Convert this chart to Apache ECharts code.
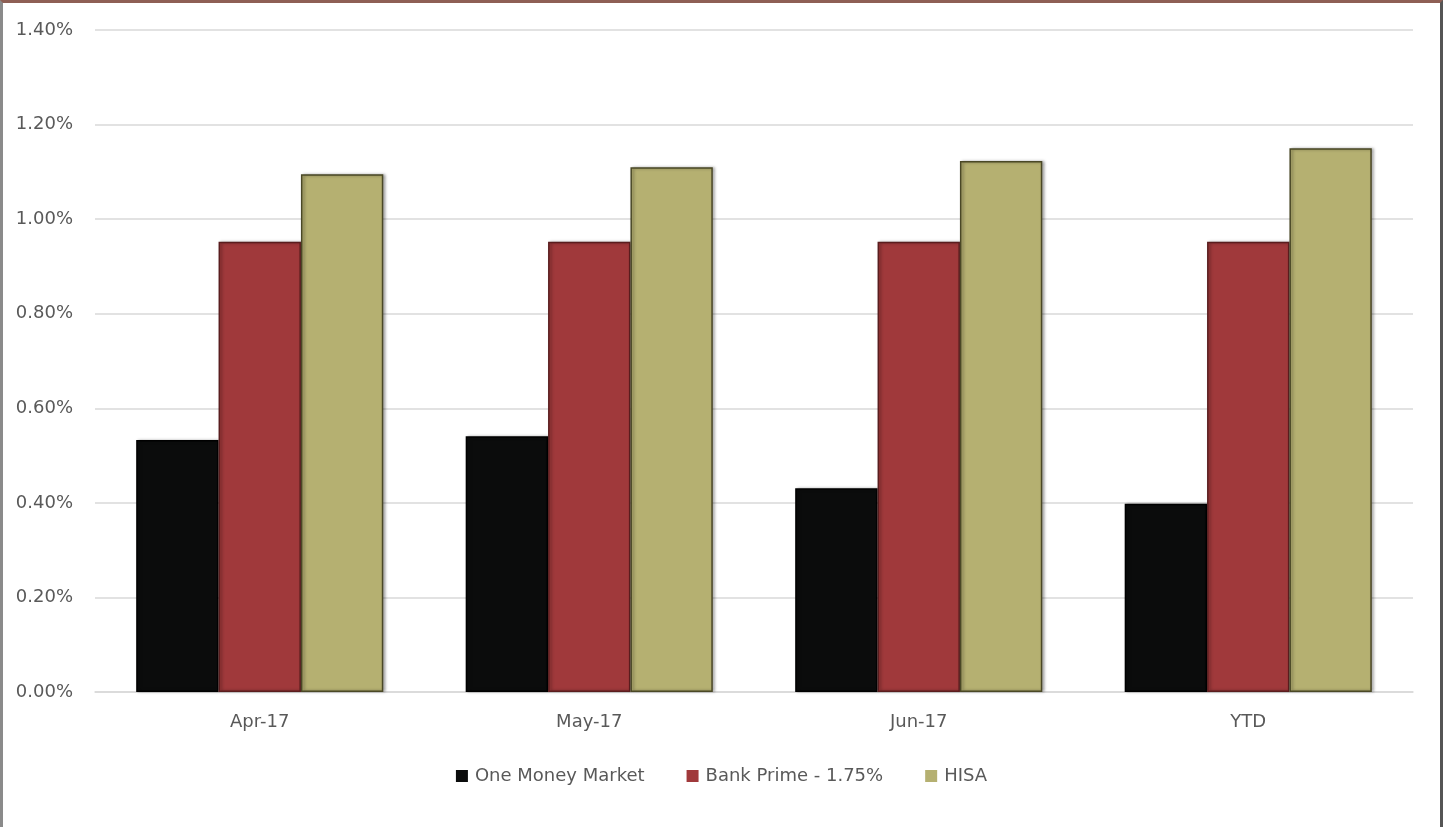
<!DOCTYPE html>
<html><head><meta charset="utf-8">
<script src="https://cdn.jsdelivr.net/npm/echarts@6/dist/echarts.min.js"></script>
<style>
html,body{margin:0;padding:0;background:#fff;}
#frame{position:absolute;left:0;top:0;width:1443px;height:827px;box-sizing:border-box;border-top:3px solid #8e5f55;border-left:3px solid #8a8a8a;border-right:3px solid #555;}
#c{position:absolute;left:0;top:0;width:1443px;height:827px;}
</style></head>
<body>
<div id="c"></div>
<div id="frame"></div>
<script>
const categories = ['Apr-17','May-17','Jun-17','YTD'];
const oneMoneyMarket = [0.533, 0.541, 0.431, 0.398];
const bankPrime = [0.952, 0.952, 0.952, 0.952];
const hisa = [1.095, 1.110, 1.123, 1.150];
const seriesNames = ['One Money Market','Bank Prime - 1.75%','HISA'];
const yTicks = {min:0, max:1.4, interval:0.2};

function style(c, b){
  return {color:c, borderColor:b, borderWidth:1.5, shadowColor:'rgba(0,0,0,0.35)', shadowBlur:3, shadowOffsetX:2, shadowOffsetY:0};
}
const chart = echarts.init(document.getElementById('c'));
chart.setOption({
  animation:false,
  textStyle:{fontFamily:'DejaVu Sans, sans-serif'},
  grid:{left:95, right:30, top:30, bottom:135},
  legend:{bottom:37, left:'center', itemWidth:12, itemHeight:12, itemGap:42, icon:'rect',
    itemStyle:{borderWidth:0, shadowBlur:0, shadowOffsetX:0},
    textStyle:{fontSize:18, color:'#595959', padding:[0,0,0,2]}, data:seriesNames},
  xAxis:{type:'category', data:categories,
    axisLine:{show:true, lineStyle:{color:'#d9d9d9', width:1.5}}, axisTick:{show:false},
    axisLabel:{fontSize:18, color:'#595959', margin:21}},
  yAxis:{type:'value', min:yTicks.min, max:yTicks.max, interval:yTicks.interval,
    axisLine:{show:false}, axisTick:{show:false},
    splitLine:{lineStyle:{color:'#d9d9d9', width:1.5}},
    axisLabel:{fontSize:18, color:'#595959', margin:22, formatter:v=>v.toFixed(2)+'%'}},
  series:[
    {name:seriesNames[0], type:'bar', data:oneMoneyMarket, barGap:'0%', barCategoryGap:'25%', itemStyle:style('#0b0c0c','#000')},
    {name:seriesNames[1], type:'bar', data:bankPrime, barGap:'0%', barCategoryGap:'25%', itemStyle:style('#a0393b','#5a1d1e')},
    {name:seriesNames[2], type:'bar', data:hisa, barGap:'0%', barCategoryGap:'25%', itemStyle:style('#b5b071','#4a4826')}
  ]
});
</script>
</body></html>
